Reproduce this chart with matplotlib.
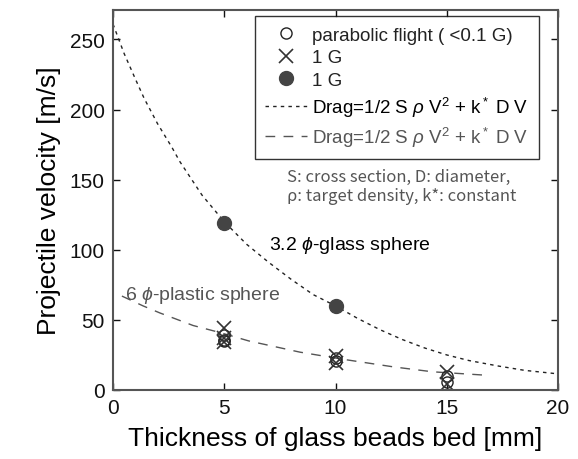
import numpy as np
import matplotlib
matplotlib.use("Agg")
import matplotlib.pyplot as plt

plt.rcParams['font.family'] = ['Liberation Sans', 'DejaVu Sans']
plt.rcParams['mathtext.fontset'] = 'custom'
plt.rcParams['mathtext.rm'] = 'Liberation Sans'
plt.rcParams['mathtext.it'] = 'Liberation Sans:italic'

# measured points (thickness [mm], velocity [m/s])
open_x = [5, 5, 5, 10, 10, 15, 15]
open_v = [39, 35, 36, 23, 21, 10, 6]
cross_x = [5, 5, 5, 10, 10, 15, 15]
cross_v = [44, 37, 34, 24, 19, 13, 4]
filled_x = [5, 10]
filled_v = [119, 60]

# drag model curves
glass_x = [0, 0.5, 1, 1.4, 2, 2.65, 3, 4, 5, 6, 7, 8, 9, 10, 11, 12, 13, 14, 15, 16, 17.35, 18.5, 20]
glass_v = [261, 240, 222, 208, 190, 173, 163, 139, 120, 104, 91, 79, 68, 60, 51, 43, 36, 30, 25, 21, 17, 14, 11.5]
plastic_x = [0.4, 1.35, 2.1, 3.6, 4.8, 6.1, 8.4, 10.3, 12.6, 14.35, 16.8]
plastic_v = [67, 60, 55, 46, 41, 35, 27, 22, 16.5, 13, 10.5]

drag_label = r"Drag=1/2 S $\rho$ V$^2$ + k$^*$ D V"

fig = plt.figure(figsize=(5.78, 4.6), dpi=100)
ax = fig.add_axes([0.1955, 0.15, 0.77, 0.826])

l_glass, = ax.plot(glass_x, glass_v, color="#222222", lw=1.0, ls=(0, (2.5, 3)),
                   label=drag_label)
l_plastic, = ax.plot(plastic_x, plastic_v, color="#555555", lw=1.0, ls=(0, (7, 6)),
                     label=drag_label)
h_open, = ax.plot(open_x, open_v, "o", ms=8, mfc="none", mec="#222222", mew=1.0,
                  label="parabolic flight ( <0.1 G)")
h_cross, = ax.plot(cross_x, cross_v, "x", ms=10, color="#333333", mew=1.2, label="1 G")
h_fill, = ax.plot(filled_x, filled_v, "o", ms=10, color="#444444", label="1 G")

ax.set_xlim(0, 20)
ax.set_ylim(0, 271)
ax.set_xticks([0, 5, 10, 15, 20])
ax.set_yticks([0, 50, 100, 150, 200, 250])
ax.tick_params(direction="in", length=5, width=1, top=True, right=True,
               labelsize=15, colors="#111111", pad=6)
for s in ax.spines.values():
    s.set_color("#555555")
    s.set_linewidth(1.5)

ax.set_xlabel("Thickness of glass beads bed [mm]", fontsize=19, labelpad=6)
ax.set_ylabel("Projectile velocity [m/s]", fontsize=19, labelpad=6)

leg = ax.legend(handles=[h_open, h_cross, h_fill, l_glass, l_plastic],
                loc="upper left", bbox_to_anchor=(0.319, 0.984), borderaxespad=0,
                fontsize=13.5, frameon=True, fancybox=False, handlelength=2.2,
                handletextpad=0.3, labelspacing=0.3, borderpad=0.55)
leg.get_frame().set_edgecolor("black")
leg.get_frame().set_linewidth(1.0)
texts = leg.get_texts()
texts[3].set_color("black")
texts[4].set_color("#555555")
for t in texts[:3]:
    t.set_color("#222222")

ax.text(0.39, 0.585, "S: cross section, D: diameter,\n\u03c1: target density, k*: constant",
        transform=ax.transAxes, fontsize=12, color="#555555", va="top",
        family=["Noto Sans CJK JP", "DejaVu Sans"], linespacing=1.15)

ax.text(7.0, 104, r"3.2 $\phi$-glass sphere", fontsize=14, color="black", va="center")
ax.text(0.55, 68, r"6 $\phi$-plastic sphere", fontsize=14, color="#555555", va="center")

fig.savefig("out.png", dpi=100)
